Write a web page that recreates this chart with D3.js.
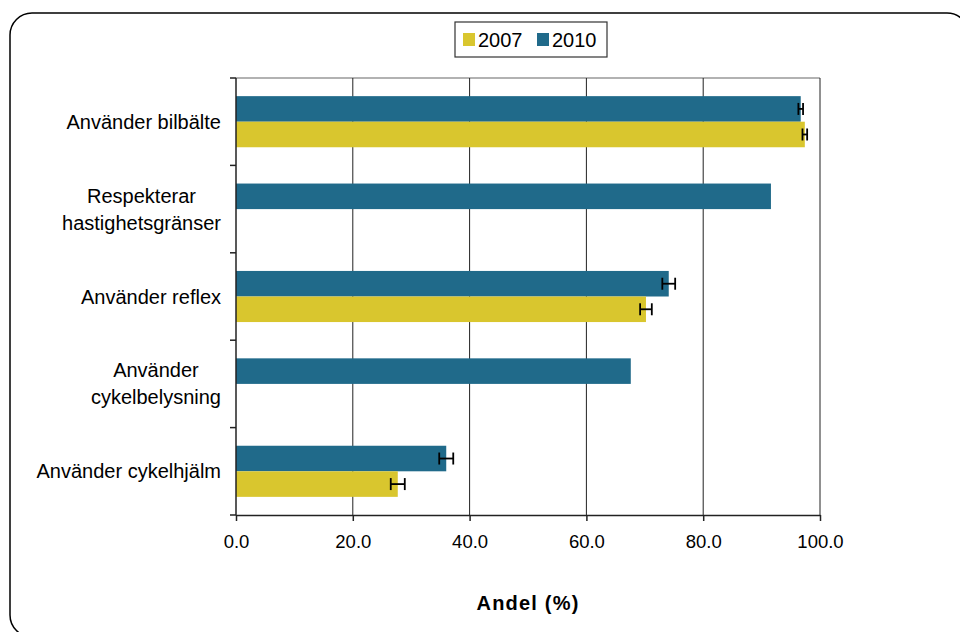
<!DOCTYPE html>
<html>
<head>
<meta charset="utf-8">
<script src="https://cdn.jsdelivr.net/npm/d3@7"></script>
<style>
  body { margin: 0; background: #fff; }
  svg { font-family: "Liberation Sans", Arial, sans-serif; }
</style>
</head>
<body>
<script>
const categories = ['Använder bilbälte', 'Respekterar hastighetsgränser', 'Använder reflex', 'Använder cykelbelysning', 'Använder cykelhjälm'];
const labelLines = [['Använder bilbälte'], ['Respekterar', 'hastighetsgränser'], ['Använder reflex'], ['Använder', 'cykelbelysning'], ['Använder cykelhjälm']];
const series = ['2007', '2010'];
const values2007 = [97.4, null, 70.2, null, 27.7];
const values2010 = [96.7, 91.6, 74.1, 67.6, 36.0];
const err2007 = [0.4, null, 1.0, null, 1.2];
const err2010 = [0.4, null, 1.1, null, 1.2];
const xTicks = [0, 20, 40, 60, 80, 100];

const colors = { '2007': '#d9c62e', '2010': '#206a8a' };

const svg = d3.select('body')
  .append('svg')
  .attr('width', 960)
  .attr('height', 632);

// chart frame
svg.append('rect')
  .attr('x', 10).attr('y', 13)
  .attr('width', 959).attr('height', 624)
  .attr('rx', 22)
  .attr('fill', '#fff')
  .attr('stroke', '#000')
  .attr('stroke-width', 1.5);

const plotL = 236, plotR = 820, plotT = 78, plotB = 515;

const x = d3.scaleLinear().domain([0, 100]).range([plotL, plotR]);
const y = d3.scaleBand().domain(categories).range([plotT, plotB]);
const sub = d3.scaleBand().domain(['2010', '2007']).range([0, y.bandwidth()]).paddingOuter(0.71);

// top border of plot area
svg.append('line')
  .attr('x1', plotL).attr('x2', plotR)
  .attr('y1', plotT).attr('y2', plotT)
  .attr('stroke', '#999').attr('stroke-width', 1.5);

// gridlines
svg.selectAll('.grid')
  .data(xTicks.slice(1))
  .enter()
  .append('line')
  .attr('class', 'grid')
  .attr('x1', d => x(d)).attr('x2', d => x(d))
  .attr('y1', plotT).attr('y2', plotB)
  .attr('stroke', '#222').attr('stroke-width', 1);

const rows = [];
categories.forEach((c, i) => {
  if (values2010[i] != null) rows.push({ cat: c, s: '2010', v: values2010[i], e: err2010[i] });
  if (values2007[i] != null) rows.push({ cat: c, s: '2007', v: values2007[i], e: err2007[i] });
});

svg.selectAll('.bar')
  .data(rows)
  .enter()
  .append('rect')
  .attr('class', 'bar')
  .attr('x', x(0))
  .attr('y', d => y(d.cat) + sub(d.s))
  .attr('width', d => x(d.v) - x(0))
  .attr('height', sub.bandwidth())
  .attr('fill', d => colors[d.s]);

// error bars
const eb = svg.selectAll('.err')
  .data(rows.filter(d => d.e != null))
  .enter()
  .append('g')
  .attr('class', 'err')
  .attr('transform', d => `translate(0, ${y(d.cat) + sub(d.s) + sub.bandwidth() / 2})`)
  .attr('stroke', '#000')
  .attr('stroke-width', 1.8);
eb.append('line')
  .attr('x1', d => x(d.v - d.e)).attr('x2', d => x(d.v + d.e))
  .attr('y1', 0).attr('y2', 0);
eb.append('line')
  .attr('x1', d => x(d.v - d.e)).attr('x2', d => x(d.v - d.e))
  .attr('y1', -6).attr('y2', 6);
eb.append('line')
  .attr('x1', d => x(d.v + d.e)).attr('x2', d => x(d.v + d.e))
  .attr('y1', -6).attr('y2', 6);

// x axis
const xAxis = d3.axisBottom(x)
  .tickValues(xTicks)
  .tickFormat(d3.format('.1f'))
  .tickSize(6)
  .tickSizeOuter(0)
  .tickPadding(14);
const gx = svg.append('g')
  .attr('transform', `translate(0, ${plotB})`)
  .call(xAxis);
gx.select('.domain').attr('stroke', '#222').attr('stroke-width', 1.5);
gx.selectAll('.tick line').attr('stroke', '#222').attr('stroke-width', 1.5);
gx.selectAll('.tick text')
  .attr('font-size', 18.5)
  .attr('font-family', '"Liberation Sans", Arial, sans-serif')
  .attr('fill', '#000');

// y axis: ticks at category boundaries
const bounds = categories.map(c => y(c)).concat([plotB]);
svg.append('line')
  .attr('x1', plotL).attr('x2', plotL)
  .attr('y1', plotT).attr('y2', plotB)
  .attr('stroke', '#222').attr('stroke-width', 1.5);
svg.selectAll('.ytick')
  .data(bounds)
  .enter()
  .append('line')
  .attr('class', 'ytick')
  .attr('x1', plotL - 6).attr('x2', plotL)
  .attr('y1', d => d).attr('y2', d => d)
  .attr('stroke', '#222').attr('stroke-width', 1.5);

// category labels
const labelRight = 221;
const lineH = 27;
labelLines.forEach((lines, i) => {
  const cy = y(categories[i]) + y.bandwidth() / 2;
  const g = svg.append('g');
  const texts = g.selectAll('text')
    .data(lines)
    .enter()
    .append('text')
    .attr('font-size', 20)
    .attr('fill', '#000')
    .attr('dy', '0.35em')
    .attr('y', (d, j) => cy + (j - (lines.length - 1) / 2) * lineH)
    .text(d => d);
  let maxW = 0;
  texts.each(function () { maxW = Math.max(maxW, this.getComputedTextLength()); });
  texts.attr('text-anchor', 'middle').attr('x', labelRight - maxW / 2);
});

// axis title
svg.append('text')
  .attr('x', (plotL + plotR) / 2)
  .attr('y', 610)
  .attr('text-anchor', 'middle')
  .attr('font-size', 20)
  .attr('font-weight', 'bold')
  .attr('letter-spacing', 1.2)
  .text('Andel (%)');

// legend
const lg = svg.append('g').attr('transform', 'translate(455, 22)');
lg.append('rect')
  .attr('width', 152).attr('height', 35)
  .attr('fill', '#fff').attr('stroke', '#333').attr('stroke-width', 1.2);
const items = lg.selectAll('.li')
  .data(series)
  .enter()
  .append('g')
  .attr('class', 'li')
  .attr('transform', (d, i) => `translate(${8 + i * 74}, 0)`);
items.append('rect')
  .attr('x', 0).attr('y', 11)
  .attr('width', 12).attr('height', 13)
  .attr('fill', d => colors[d]);
items.append('text')
  .attr('x', 15).attr('y', 18)
  .attr('dy', '0.35em')
  .attr('font-size', 20)
  .text(d => d);
</script>
</body>
</html>
